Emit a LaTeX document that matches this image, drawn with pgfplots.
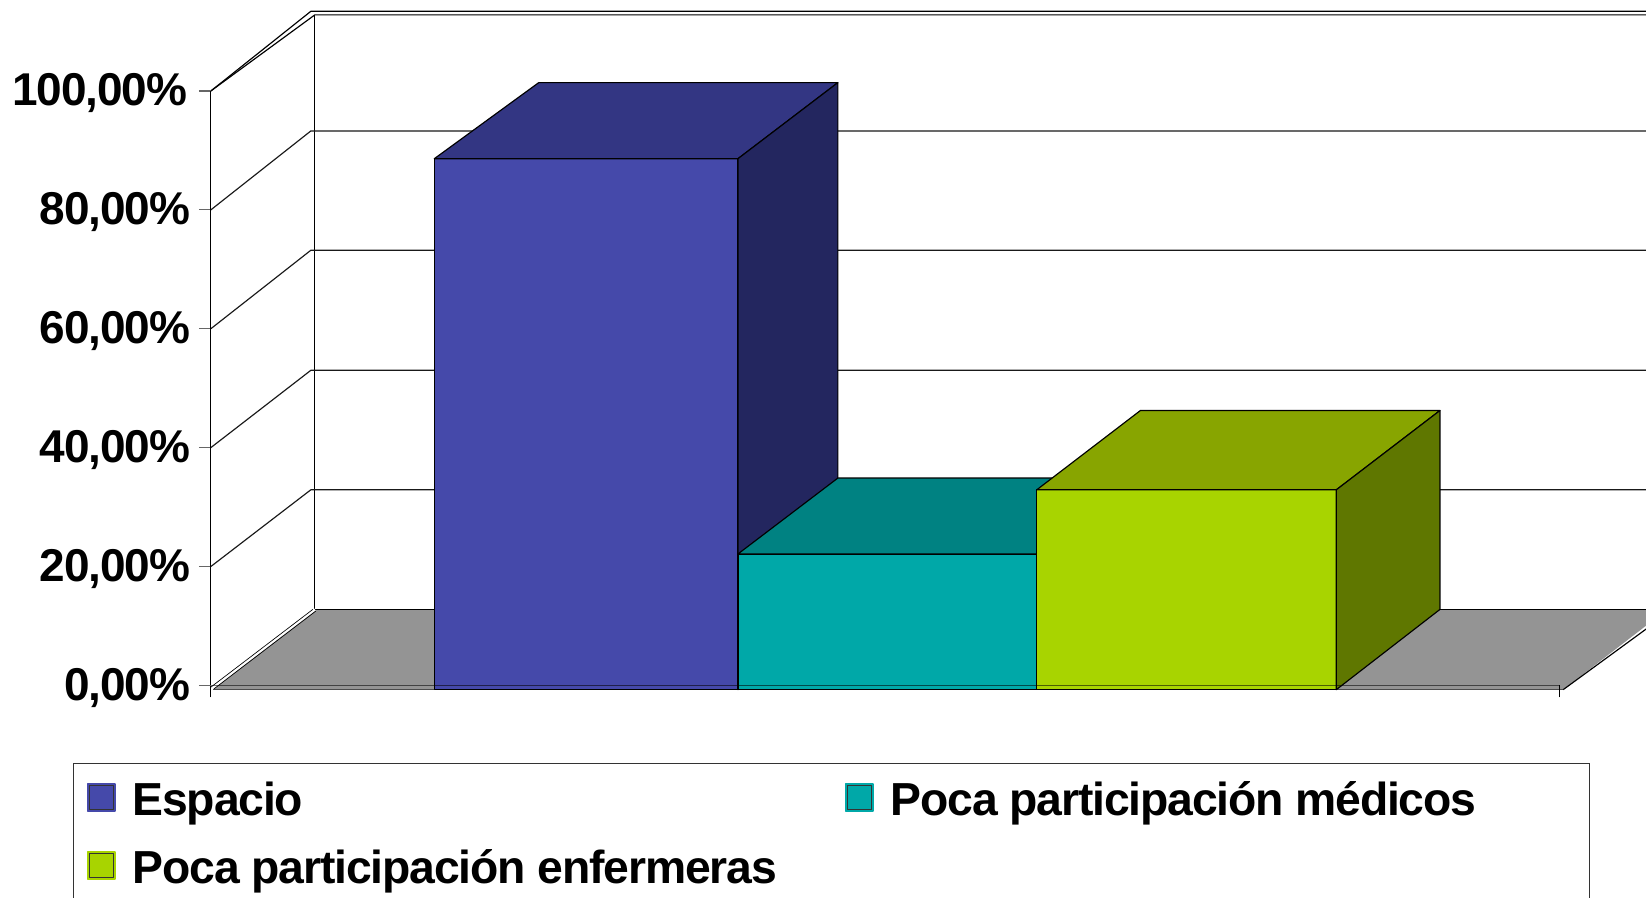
\documentclass[border=0pt]{standalone}
\usepackage{fontspec}
\setmainfont{Liberation Sans}[LetterSpace=-2.5]
\usepackage{pgfplots}
\pgfplotsset{compat=1.18}
\definecolor{bluef}{RGB}{69,73,170}
\definecolor{bluet}{RGB}{51,54,131}
\definecolor{blues}{RGB}{35,38,95}
\definecolor{tealf}{RGB}{0,168,168}
\definecolor{tealt}{RGB}{0,130,130}
\definecolor{greenf}{RGB}{168,212,0}
\definecolor{greent}{RGB}{136,165,0}
\definecolor{greens}{RGB}{95,119,0}
\definecolor{floorc}{RGB}{148,148,148}
\pgfplotsset{
  face/.style={draw=black,line width=0.7pt,line join=round},
  swatch/.style={legend image code/.code={
    \draw[draw=#1,fill=#1,line width=1pt] (0.5pt,2.4pt) rectangle (16.8pt,18.8pt);
    \draw[draw=black!80,line width=0.5pt] (1.5pt,3.4pt) rectangle (15.8pt,17.8pt);
  }},
}
\begin{document}
\begin{tikzpicture}
\path[use as bounding box,clip] (-126.6pt,-127.38pt) rectangle (861.5pt,411.42pt);
\begin{axis}[
  scale only axis,
  width=809.58pt,height=356.82pt,
  xmin=211,xmax=1560.3,ymin=0,ymax=100,
  clip=false,
  axis on top,
  axis y line=left,axis x line=bottom,
  y axis line style={-,black,line width=0.7pt},
  x axis line style={-,black,opacity=0.55,line width=1pt},
  xtick={211,1560.3},xticklabels={},
  ytick={0,20,40,60,80,100},
  yticklabels={{0,00\%},{20,00\%},{40,00\%},{60,00\%},{80,00\%},{100,00\%\kern1.9pt}},
  tick align=outside,
  major tick length=7.2pt,
  tick style={black!60,line width=0.7pt},
  xtick style={black,line width=0.5pt},
  yticklabel style={font=\fontsize{27.6}{30}\selectfont\bfseries,inner sep=0pt,xshift=-5.1pt,yshift=-1.3pt,anchor=east},
  legend cell align=left,
  legend columns=2,
  legend style={
    at={(axis cs:73,-13.05)},anchor=north west,
    draw=black!80,line width=0.6pt,
    font=\fontsize{27.8}{30}\selectfont\bfseries,
    inner xsep=8pt,inner ysep=10.7pt,
    nodes={inner sep=0pt,anchor=base west},
    /tikz/row sep=18.9pt,
    /tikz/every odd column/.append style={column sep=10.2pt},
    /tikz/every even column/.append style={column sep=0pt},
  },
]
% back wall edges
\addplot[forget plot,black,line width=0.7pt] coordinates {(211,100)(311,113.4)(1660,113.4)};
\addplot[forget plot,black,line width=0.7pt] coordinates {(211,100)(315,112.8)(1660,112.8)};
\addplot[forget plot,black,line width=0.7pt] coordinates {(315,112.8)(315,12.78)};
% wall gridlines
\addplot[forget plot,black!90,line width=0.7pt] coordinates {(211,80)(311,93.27)(1660,93.27)};
\addplot[forget plot,black!90,line width=0.7pt] coordinates {(211,60)(311,73.2)(1660,73.2)};
\addplot[forget plot,black!90,line width=0.7pt] coordinates {(211,40)(311,53.0)(1660,53.0)};
\addplot[forget plot,black!90,line width=0.7pt] coordinates {(211,20)(311,32.9)(1660,32.9)};
% floor
\addplot[forget plot,fill=floorc,draw=none] coordinates {(213,-0.72)(1564,-0.72)(1668,12.78)(315,12.78)} --cycle;
\addplot[forget plot,black,line width=0.9pt] coordinates {(315,12.78)(1668,12.78)};
\addplot[forget plot,black,line width=0.7pt] coordinates {(1564,-0.72)(1668,12.06)};
\addplot[forget plot,black!70,line width=0.8pt] coordinates {(213,-0.72)(1564,-0.72)};
\addplot[forget plot,white,line width=1.6pt] coordinates {(213,-0.3)(315,12.78)};
\addplot[forget plot,black,line width=0.4pt] coordinates {(211,-0.3)(313,12.78)};
\addplot[forget plot,black,line width=0.4pt] coordinates {(214,-0.6)(316,12.5)};
% front axis stub below zero
\addplot[forget plot,black,line width=0.7pt] coordinates {(211,0)(211,-2)};
% Espacio
\addplot[swatch=bluef,fill=bluef,face] coordinates {(434.5,-0.72)(738.3,-0.72)(738.3,88.6)(434.5,88.6)} --cycle;
\addlegendentry{\makebox[427.5pt][l]{Espacio}}
\addplot[forget plot,fill=bluet,face] coordinates {(434.5,88.6)(738.3,88.6)(838.3,101.4)(539,101.4)} --cycle;
\addplot[forget plot,fill=blues,face] coordinates {(738.3,-0.72)(838.3,12.06)(838.3,101.4)(738.3,88.6)} --cycle;
% Poca participacion medicos
\addplot[swatch=tealf,fill=tealf,face] coordinates {(738.3,-0.72)(1037.3,-0.72)(1037.3,22.1)(738.3,22.1)} --cycle;
\addlegendentry{\makebox[411.4pt][l]{Poca participación médicos}}
\addplot[forget plot,fill=tealt,face] coordinates {(738.3,22.1)(1037.3,22.1)(1141,34.88)(838.3,34.88)} --cycle;
% Poca participacion enfermeras
\addplot[swatch=greenf,fill=greenf,face] coordinates {(1037.3,-0.72)(1337,-0.72)(1337,32.9)(1037.3,32.9)} --cycle;
\addlegendentry{Poca participación enfermeras}
\addplot[forget plot,fill=greent,face] coordinates {(1037.3,32.9)(1337,32.9)(1440.7,46.24)(1141,46.24)} --cycle;
\addplot[forget plot,fill=greens,face] coordinates {(1337,-0.72)(1440.7,12.78)(1440.7,46.24)(1337,32.9)} --cycle;
\end{axis}
\end{tikzpicture}
\end{document}
